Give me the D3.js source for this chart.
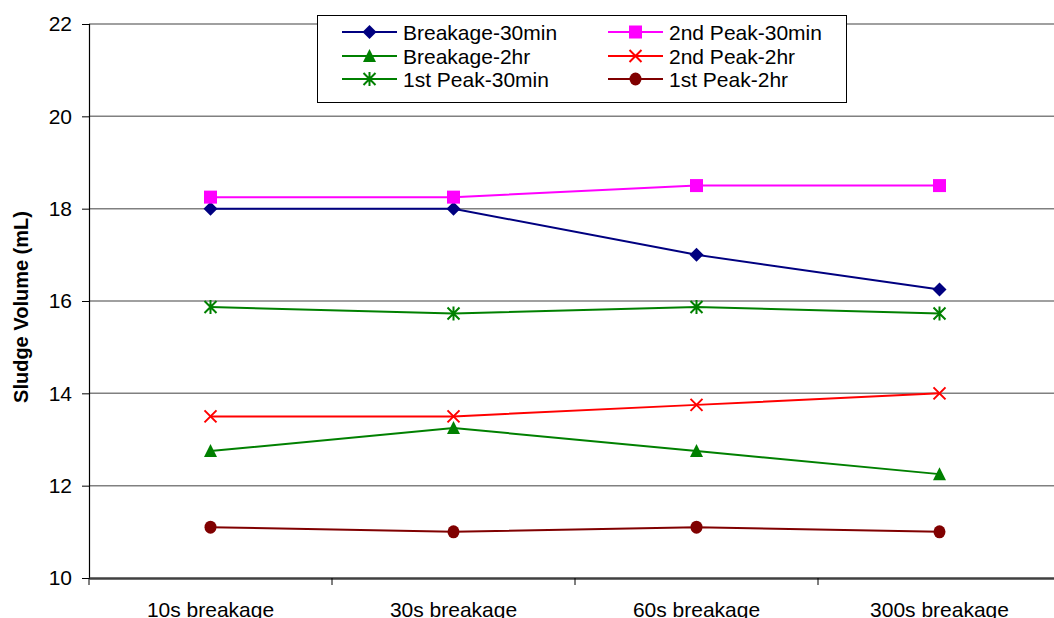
<!DOCTYPE html>
<html>
<head>
<meta charset="utf-8">
<script src="https://cdn.jsdelivr.net/npm/d3@7"></script>
<style>
  html, body { margin: 0; padding: 0; background: #fff; }
  svg { display: block; font-family: "Liberation Sans", Arial, sans-serif; }
</style>
</head>
<body>
<svg id="chart" width="1054" height="618"></svg>
<script>
// Sludge volume by breakage time
const categories = ["10s breakage", "30s breakage", "60s breakage", "300s breakage"];
const yTicks = [10, 12, 14, 16, 18, 20, 22];

const breakage30min = [18, 18, 17, 16.25];
const secondPeak30min = [18.25, 18.25, 18.5, 18.5];
const breakage2hr = [12.75, 13.25, 12.75, 12.25];
const secondPeak2hr = [13.5, 13.5, 13.75, 14];
const firstPeak30min = [15.87, 15.73, 15.87, 15.73];
const firstPeak2hr = [11.1, 11.0, 11.1, 11.0];

const series = [
  { name: "Breakage-30min", values: breakage30min, color: "#000080", marker: "diamond" },
  { name: "2nd Peak-30min", values: secondPeak30min, color: "#FF00FF", marker: "square" },
  { name: "Breakage-2hr", values: breakage2hr, color: "#008000", marker: "triangle" },
  { name: "2nd Peak-2hr", values: secondPeak2hr, color: "#FF0000", marker: "x" },
  { name: "1st Peak-30min", values: firstPeak30min, color: "#008000", marker: "star" },
  { name: "1st Peak-2hr", values: firstPeak2hr, color: "#800000", marker: "circle" }
];

const svg = d3.select("#chart");
const plot = { left: 89, right: 1061, top: 24, bottom: 578 };

const x = d3.scaleBand().domain(categories).range([plot.left, plot.right]);
const y = d3.scaleLinear().domain([10, 22]).range([plot.bottom, plot.top]);

// horizontal gridlines
svg.append("g")
  .selectAll("line")
  .data(yTicks.filter(t => t !== 10))
  .join("line")
  .attr("x1", plot.left).attr("x2", plot.right)
  .attr("y1", d => y(d)).attr("y2", d => y(d))
  .attr("stroke", "#808080").attr("stroke-width", 1.5);

// y axis
const yAxis = svg.append("g")
  .attr("transform", `translate(${plot.left},0)`)
  .call(d3.axisLeft(y).tickValues(yTicks).tickSize(7).tickPadding(10).tickFormat(d3.format("d")));
yAxis.select(".domain").attr("stroke", "#000").attr("stroke-width", 1.2);
yAxis.selectAll(".tick line").attr("stroke", "#000");
yAxis.selectAll(".tick text")
  .attr("font-size", 21).attr("fill", "#000")
  .attr("font-family", "Liberation Sans, Arial, sans-serif");

// x axis with ticks at band boundaries
const xAxis = svg.append("g")
  .attr("transform", `translate(0,${plot.bottom})`)
  .call(d3.axisBottom(x).tickSize(0).tickPadding(0));
xAxis.select(".domain").attr("stroke", "#404040").attr("stroke-width", 2.5);
xAxis.selectAll(".tick text")
  .attr("font-size", 21).attr("fill", "#000")
  .attr("font-family", "Liberation Sans, Arial, sans-serif")
  .attr("dy", null).attr("y", 39);
svg.append("g")
  .selectAll("line")
  .data(categories)
  .join("line")
  .attr("x1", d => x(d)).attr("x2", d => x(d))
  .attr("y1", plot.bottom).attr("y2", plot.bottom + 7)
  .attr("stroke", "#000").attr("stroke-width", 1);

// y axis title
svg.append("text")
  .attr("transform", `translate(28,${(plot.top + plot.bottom) / 2 + 6}) rotate(-90)`)
  .attr("text-anchor", "middle")
  .attr("font-size", 20).attr("font-weight", "bold")
  .text("Sludge Volume (mL)");

const cx = d => x(d) + x.bandwidth() / 2;

function drawMarker(g, type, color) {
  switch (type) {
    case "diamond":
      g.append("path").attr("d", "M0,-7 L7,0 L0,7 L-7,0 Z").attr("fill", color);
      break;
    case "square":
      g.append("rect").attr("x", -6.5).attr("y", -6.5).attr("width", 13).attr("height", 13).attr("fill", color);
      break;
    case "triangle":
      g.append("path").attr("d", "M0,-7 L6.5,6 L-6.5,6 Z").attr("fill", color);
      break;
    case "x":
      g.append("path").attr("d", "M-6,-6 L6,6 M-6,6 L6,-6").attr("stroke", color).attr("stroke-width", 2).attr("fill", "none");
      break;
    case "star":
      g.append("path").attr("d", "M-6,-6 L6,6 M-6,6 L6,-6 M0,-7 L0,7").attr("stroke", color).attr("stroke-width", 2).attr("fill", "none");
      break;
    case "circle":
      g.append("ellipse").attr("rx", 6).attr("ry", 6.5).attr("fill", color);
      break;
  }
}

const line = d3.line().x((d, i) => cx(categories[i])).y(d => y(d));

series.forEach(s => {
  const g = svg.append("g");
  g.append("path")
    .attr("d", line(s.values))
    .attr("fill", "none").attr("stroke", s.color).attr("stroke-width", 2);
  s.values.forEach((v, i) => {
    const m = g.append("g").attr("transform", `translate(${cx(categories[i])},${y(v)})`);
    drawMarker(m, s.marker, s.color);
  });
});

// legend
const legend = svg.append("g");
legend.append("rect")
  .attr("x", 317.5).attr("y", 15.5).attr("width", 529).attr("height", 87)
  .attr("fill", "#fff").attr("stroke", "#000").attr("stroke-width", 1);

const legendCols = [342, 608];
const legendRows = [32, 56, 79];
series.forEach((s, i) => {
  const col = legendCols[i % 2];
  const row = legendRows[Math.floor(i / 2)];
  const g = legend.append("g");
  g.append("line")
    .attr("x1", col).attr("x2", col + 55)
    .attr("y1", row).attr("y2", row)
    .attr("stroke", s.color).attr("stroke-width", 2);
  const m = g.append("g").attr("transform", `translate(${col + 27.5},${row})`);
  drawMarker(m, s.marker, s.color);
  g.append("text")
    .attr("x", col + 61).attr("y", row + 7.5)
    .attr("font-size", 21).attr("fill", "#000")
    .text(s.name);
});
</script>
</body>
</html>
